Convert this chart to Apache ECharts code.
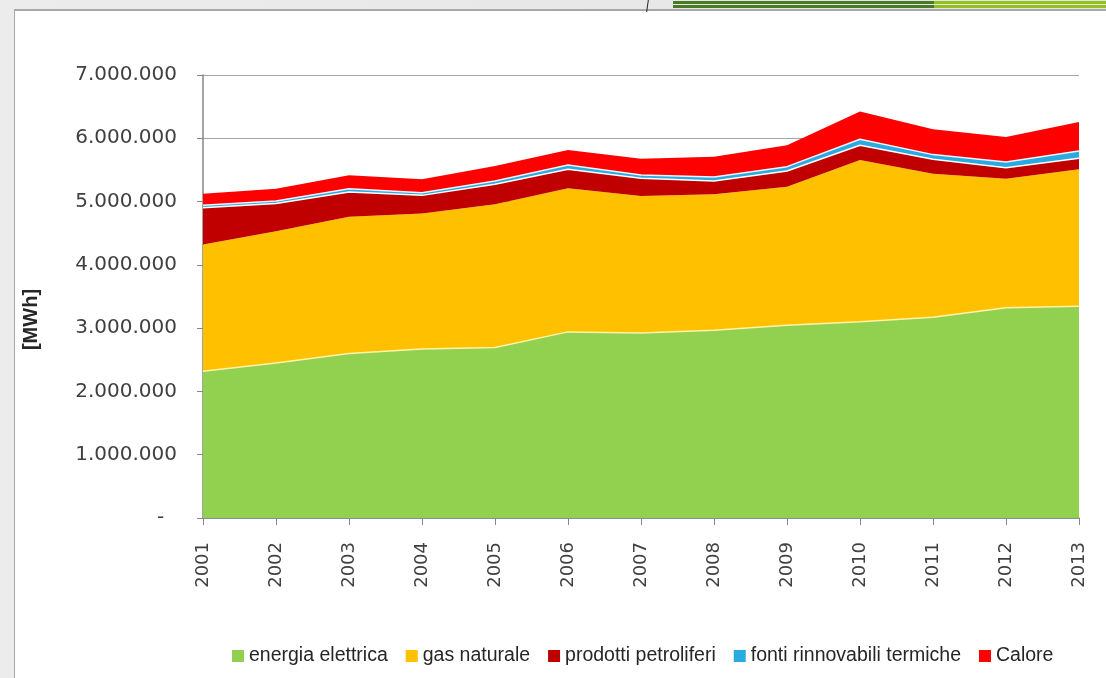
<!DOCTYPE html>
<html>
<head>
<meta charset="utf-8">
<script src="https://cdn.jsdelivr.net/npm/echarts@6/dist/echarts.min.js"></script>
<style>
  html, body { margin: 0; padding: 0; }
  body { width: 1106px; height: 678px; position: relative; overflow: hidden;
         background: linear-gradient(90deg, #ececec, #e4e4e4); }
  #panel { position: absolute; left: 14px; top: 9px; right: 0; bottom: 0;
           background: #fff; border-left: 1px solid #a8a8a8; border-top: 2px solid #a8a8a8; }
  #chart { position: absolute; left: 0; top: 0; width: 1106px; height: 678px; }
  .bar { position: absolute; height: 3px; }
</style>
</head>
<body>
<div id="panel"></div>
<div class="bar" style="left:673px;top:1px;width:261px;background:#4a7a23"></div>
<div class="bar" style="left:934px;top:1px;width:172px;background:#95c11f"></div>
<div class="bar" style="left:673px;top:5px;width:261px;background:#4a7a23"></div>
<div class="bar" style="left:934px;top:5px;width:172px;background:#95c11f"></div>
<div style="position:absolute;left:647px;top:0;width:1px;height:12px;background:#222;transform:skewX(-8deg)"></div>
<div id="chart"></div>
<script>
// anni
const years = ['2001', '2002', '2003', '2004', '2005', '2006', '2007', '2008', '2009', '2010', '2011', '2012', '2013']
// consumi per vettore [MWh]
const energiaElettrica = [2318000, 2451000, 2598000, 2672000, 2693000, 2941000, 2925000, 2967000, 3046000, 3100000, 3172000, 3321000, 3347000]
const gasNaturale = [2005000, 2082000, 2163000, 2141000, 2263000, 2268000, 2162000, 2147000, 2190000, 2557000, 2269000, 2041000, 2163000]
const prodottiPetroliferi = [580000, 438000, 389000, 285000, 316000, 301000, 280000, 211000, 247000, 232000, 227000, 174000, 174000]
const fontiRinnovabili = [37000, 37000, 54000, 42000, 53000, 68000, 52000, 63000, 69000, 95000, 74000, 89000, 115000]
const calore = [185000, 196000, 211000, 211000, 237000, 237000, 259000, 322000, 337000, 438000, 400000, 396000, 459000]

const chart = echarts.init(document.getElementById('chart'))

// formato italiano 7.000.000, zero come '-' (stile contabilita)
function fmt(v) {
  if (v === 0) return '-  '
  return String(v).replace(/\B(?=(\d{3})+(?!\d))/g, '.')
}

function area(name, data, color, edge) {
  return {
    name: name,
    type: 'line',
    stack: 'totale',
    data: data,
    symbol: 'none',
    itemStyle: { color: color },
    lineStyle: edge ? { color: edge, width: 1.5 } : { width: 0 },
    areaStyle: { color: color, opacity: 1 }
  }
}

const options = {
  animation: false,
  backgroundColor: 'transparent',
  grid: { left: 203, right: 27, top: 75, bottom: 160 },
  legend: {
    bottom: 7,
    left: 227,
    icon: 'rect',
    itemWidth: 12,
    itemHeight: 12,
    itemGap: 18,
    textStyle: { fontFamily: 'Liberation Sans', fontSize: 19.5, color: '#262626' },
    data: ['energia elettrica', 'gas naturale', 'prodotti petroliferi', 'fonti rinnovabili termiche', 'Calore']
  },
  xAxis: {
    type: 'category',
    boundaryGap: false,
    data: years,
    axisLine: { lineStyle: { color: '#868686', width: 1.5 } },
    axisTick: { show: true, length: 7, lineStyle: { color: '#868686' } },
    axisLabel: {
      rotate: 90,
      margin: 24,
      fontFamily: 'DejaVu Sans',
      fontSize: 18,
      color: '#404040'
    }
  },
  yAxis: {
    type: 'value',
    min: 0,
    max: 7000000,
    interval: 1000000,
    name: '[MWh]',
    nameLocation: 'middle',
    nameRotate: 90,
    nameGap: 162,
    nameTextStyle: {
      fontFamily: 'Liberation Sans',
      fontSize: 20,
      fontWeight: 'bold',
      color: '#262626',
      padding: [0, 46, 0, 0]
    },
    axisLine: { show: true, lineStyle: { color: '#868686', width: 1.5 } },
    axisTick: { show: true, length: 6, lineStyle: { color: '#868686' } },
    splitLine: { show: true, lineStyle: { color: '#a6a6a6', width: 1 } },
    axisLabel: {
      margin: 26,
      fontFamily: 'DejaVu Sans',
      fontSize: 20,
      color: '#404040',
      formatter: function(v) { return fmt(v) }
    }
  },
  series: [
    area('energia elettrica', energiaElettrica, '#92D050', '#fff3a8'),
    area('gas naturale', gasNaturale, '#FFC000', null),
    area('prodotti petroliferi', prodottiPetroliferi, '#C00000', '#ffffff'),
    area('fonti rinnovabili termiche', fontiRinnovabili, '#29ABE2', '#e8f6fc'),
    area('Calore', calore, '#FF0000', null)
  ]
}
chart.setOption(options)
</script>
</body>
</html>
